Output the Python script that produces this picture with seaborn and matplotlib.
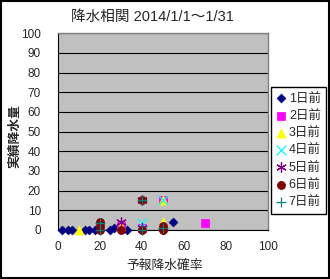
import matplotlib
matplotlib.use("Agg")
import matplotlib.pyplot as plt
import seaborn as sns
from matplotlib.patches import Rectangle

# ---- data ----
labels = ["1日前", "2日前", "3日前", "4日前", "5日前", "6日前", "7日前"]
d1_x = [2, 5, 7, 13, 15, 18, 20, 25, 27, 29, 33, 40, 50, 55]
d1_y = [0, 0, 0, 0, 0, 0, 0, 0, 1, 1.5, 0, 0, 0, 4.2]
d2_x = [30, 40, 50, 70]
d2_y = [2, 1, 15.5, 3.7]
d3_x = [10, 30, 50, 50]
d3_y = [0, 2, 15.5, 4]
d4_x = [40, 50]
d4_y = [3.5, 15.5]
d5_x = [30, 40, 40]
d5_y = [4, 15.5, 1]
d6_x = [20, 20, 20, 30, 40, 40, 50, 50]
d6_y = [0, 2, 4, 0, 15.5, 0, 0, 2]
d7_x = [20, 20, 40, 40, 50]
d7_y = [0, 3.5, 15.5, 0, 1]
x_ticks = [0, 20, 40, 60, 80, 100]
y_ticks = [0, 10, 20, 30, 40, 50, 60, 70, 80, 90, 100]

series_x = [d1_x, d2_x, d3_x, d4_x, d5_x, d6_x, d7_x]
series_y = [d1_y, d2_y, d3_y, d4_y, d5_y, d6_y, d7_y]
colors = ["#000080", "#FF00FF", "#FFFF00", "#00FFFF", "#800080", "#800000", "#008080"]
markers = ["D", "s", "^", "x", (6, 2, 0), "o", "+"]
sizes = [20, 36, 42, 46, 48, 34, 50]
filled = [True, True, True, False, False, True, False]

sns.set_style("white")
plt.rcParams["font.family"] = ["Liberation Sans", "Noto Sans CJK JP", "DejaVu Sans"]

W, H = 330, 279
fig = plt.figure(figsize=(W / 100, H / 100), dpi=100)
ax = fig.add_axes([57.5 / W, 1 - 230 / H, (268 - 57.5) / W, (230 - 33.3) / H])
ax.set_facecolor("#C0C0C0")

for xs, ys, c, m, s, f, lab in zip(series_x, series_y, colors, markers, sizes, filled, labels):
    if f:
        sns.scatterplot(x=xs, y=ys, ax=ax, color=c, marker=m, s=s,
                        edgecolor=c, linewidth=0.5, label=lab, zorder=3, clip_on=False)
    else:
        sns.scatterplot(x=xs, y=ys, ax=ax, color=c, marker=m, s=s,
                        linewidth=0.9, label=lab, zorder=3, clip_on=False)

ax.set_xlim(0, 100)
ax.set_ylim(0, 100)
ax.set_xticks(x_ticks)
ax.set_yticks(y_ticks)
ax.set_xticklabels([str(v) for v in x_ticks], fontsize=8.5)
ax.set_yticklabels([str(v) for v in y_ticks], fontsize=8.5)
ax.tick_params(axis="x", direction="in", length=3, width=0.8, color="black", pad=8)
ax.tick_params(axis="y", direction="out", length=3, width=0.8, color="black", pad=9)
ax.yaxis.grid(True, color="black", linewidth=0.8)
ax.xaxis.grid(False)
ax.set_axisbelow(True)
for side in ["top", "right"]:
    ax.spines[side].set_color("#808080")
    ax.spines[side].set_linewidth(1.0)
for side in ["left", "bottom"]:
    ax.spines[side].set_color("black")
    ax.spines[side].set_linewidth(0.8)
ax.set_xlabel("")
ax.set_ylabel("")

# titles/labels
fig.text(152.5 / W, 1 - 17 / H, "降水相関 2014/1/1～1/31", ha="center", va="center", fontsize=10.5)
fig.text(15 / W, 1 - 136 / H, "実績降水量", ha="center", va="center", rotation=90,
         fontsize=9.2, fontweight="bold")
fig.text(165 / W, 1 - 266 / H, "予報降水確率", ha="center", va="center", fontsize=9.2)

leg = ax.legend(loc="upper left", bbox_to_anchor=(270.7 / W, 1 - 87 / H),
                bbox_transform=fig.transFigure, borderaxespad=0, frameon=True,
                fancybox=False, edgecolor="black", framealpha=1, fontsize=9,
                handlelength=0.8, handletextpad=0.2, labelspacing=0.42,
                borderpad=0.45, markerscale=1.0)
leg.get_frame().set_linewidth(1.0)

fig.patches.append(Rectangle((0.002, 0.002), 0.996, 0.996, transform=fig.transFigure,
                             fill=False, edgecolor="black", linewidth=1.5))

fig.savefig("out.png", dpi=100)
